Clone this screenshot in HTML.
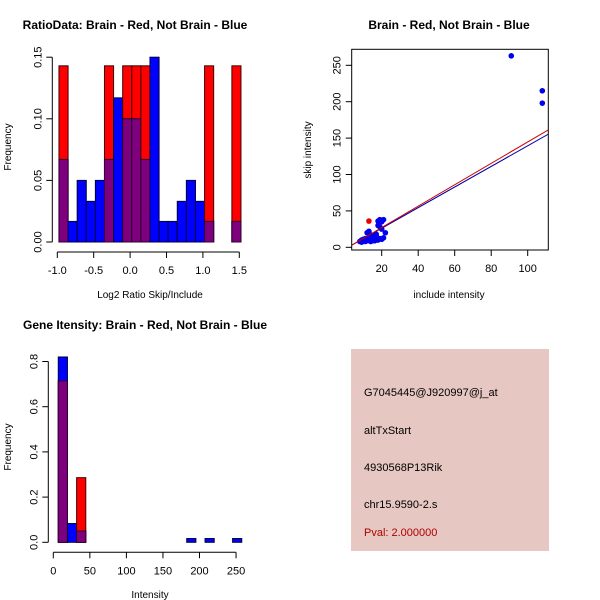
<!DOCTYPE html>
<html><head><meta charset="utf-8"><style>
body{margin:0;background:#fff;width:600px;height:600px;overflow:hidden}
svg{display:block;font-family:"Liberation Sans",sans-serif}
</style></head><body>
<svg width="600" height="600" viewBox="0 0 600 600">
<g id="p1"></g>
<g id="p2"></g>
<g id="p3"></g>
<g>
<rect x="351" y="349" width="198" height="202" fill="#e6c7c1"/>
<text x="364" y="396" font-size="11">G7045445@J920997@j_at</text>
<text x="364" y="434" font-size="11">altTxStart</text>
<text x="364" y="471" font-size="11">4930568P13Rik</text>
<text x="364" y="508" font-size="11">chr15.9590-2.s</text>
<text x="364" y="536" font-size="11" fill="#b00000">Pval: 2.000000</text>
</g>
</svg>
<script>
// Panel 1 data
const ratioStart=-0.977, ratioBin=0.125;
const ratioBlue=[0.067,0.0167,0.05,0.033,0.05,0.067,0.117,0.1,0.1,0.067,0.15,0.0167,0.0167,0.033,0.05,0.033,0.0167,0,0,0.0167];
const ratioRed=[0.143,0,0,0,0,0.143,0,0.143,0.143,0.143,0,0,0,0,0,0,0.143,0,0,0.143];
const ratioXTicks=[-1.0,-0.5,0.0,0.5,1.0,1.5];
const ratioXLabels=["-1.0","-0.5","0.0","0.5","1.0","1.5"];
const ratioYTicks=[0,0.05,0.10,0.15];
const ratioYLabels=["0.00","0.05","0.10","0.15"];
// Panel 2 data
const scX=[8,9,10,11,12,13,14,15,16,17,18,19,20,21,9,11,12,13,14,15,16,17,18,19,20,12,13,14,17,18,19,20,22,18,21,16,10,15,91,108,108];
const scY=[8,10,9,12,10,14,11,13,9,15,10,12,11,13,7,8,20,22,17,16,14,18,30,38,35,9,11,8,10,12,28,25,20,36,38,9,11,12,263,215,198];
const scRedX=[13];
const scRedY=[36];
const fitRed=[-2.3,1.47];
const fitBlue=[-2.1,1.415];
const scXTicks=[20,40,60,80,100];
const scYTicks=[0,50,100,150,200,250];
// Panel 3 data
const intStart=6.8, intBin=12.55;
const intBlue=[0.82,0.083,0.05,0,0,0,0,0,0,0,0,0,0,0,0.0167,0,0.0167,0,0,0.0167];
const intRed=[0.714,0,0.286,0,0,0,0,0,0,0,0,0,0,0,0,0,0,0,0,0];
const intXTicks=[0,50,100,150,200,250];
const intYTicks=[0,0.2,0.4,0.6,0.8];
const intYLabels=["0.0","0.2","0.4","0.6","0.8"];

const NS="http://www.w3.org/2000/svg";
function mk(parent,tag,attrs,name,txt){const e=document.createElementNS(NS,tag);for(const k in attrs)e.setAttribute(k,attrs[k]);


if(txt!==undefined)e.textContent=txt;parent.appendChild(e);return e;}

function hist(g,o){
 const sx=v=>o.x0+(v-o.xv0)*o.xs, sy=v=>o.y0-v*o.ys;
 const bw=o.bin*o.xs;
 for(let i=0;i<o.blue.length;i++){
  const x=sx(o.start+i*o.bin), b=o.blue[i], r=o.red[i], m=Math.min(b,r);
  if(r>0) mk(g,'rect',{x:x,y:sy(r),width:bw,height:r*o.ys,fill:'#ff0000',stroke:'#400000','stroke-width':1},'red-bar');
  if(b>0) mk(g,'rect',{x:x,y:sy(b),width:bw,height:b*o.ys,fill:'#0000ff',stroke:'#000040','stroke-width':1},'blue-bar');
  if(m>0) mk(g,'rect',{x:x,y:sy(m),width:bw,height:m*o.ys,fill:'#7f007f',stroke:'#300030','stroke-width':1},'overlap-bar');
 }
 const ay=o.y0+10;
 mk(g,'line',{x1:sx(o.xt[0]),x2:sx(o.xt[o.xt.length-1]),y1:ay,y2:ay,stroke:'#000'},'x-axis');
 o.xt.forEach((t,i)=>{mk(g,'line',{x1:sx(t),x2:sx(t),y1:ay,y2:ay+6,stroke:'#000'},'x-tick');
  mk(g,'text',{x:sx(t),y:ay+22,'font-size':11,'text-anchor':'middle'},'x-tick-label',o.xl[i]);});
 const ax=o.x0-5;
 mk(g,'line',{x1:ax,x2:ax,y1:sy(o.yt[0]),y2:sy(o.yt[o.yt.length-1]),stroke:'#000'},'y-axis');
 o.yt.forEach((t,i)=>{const y=sy(t);mk(g,'line',{x1:ax-6,x2:ax,y1:y,y2:y,stroke:'#000'},'y-tick');
  mk(g,'text',{x:ax-11,y:y,'font-size':11,'text-anchor':'middle',transform:`rotate(-90 ${ax-11} ${y})`},'y-tick-label',o.yl[i]);});
 mk(g,'text',{x:o.tx,y:o.ty,'font-size':12,'font-weight':'bold','text-anchor':'middle'},'chart-title',o.title);
 mk(g,'text',{x:o.xlx,y:o.xly,'font-size':10,'text-anchor':'middle'},'x-axis-title',o.xlab);
 mk(g,'text',{x:11,y:o.yly,'font-size':10,'text-anchor':'middle',transform:`rotate(-90 11 ${o.yly})`},'y-axis-title','Frequency');
}
hist(document.getElementById('p1'),{x0:57.3,xv0:-1,xs:72.8,y0:242,ys:1232,start:ratioStart,bin:ratioBin,blue:ratioBlue,red:ratioRed,
 xt:ratioXTicks,xl:ratioXLabels,yt:ratioYTicks,yl:ratioYLabels,title:'RatioData: Brain - Red, Not Brain - Blue',tx:135,ty:29,xlab:'Log2 Ratio Skip/Include',xlx:150,xly:298,yly:147});
hist(document.getElementById('p3'),{x0:53.3,xv0:0,xs:0.731,y0:542.3,ys:226,start:intStart,bin:intBin,blue:intBlue,red:intRed,
 xt:intXTicks,xl:intXTicks.map(String),yt:intYTicks,yl:intYLabels,title:'Gene Itensity: Brain - Red, Not Brain - Blue',tx:145,ty:329,xlab:'Intensity',xlx:150,xly:598,yly:447});

(function(){
 const g=document.getElementById('p2');
 const sx=v=>381.7+(v-20)*1.825, sy=v=>247.3-v*0.728;
 const L=351.7,R=548.3,T=49.3,B=250;
 mk(g,'rect',{x:L,y:T,width:R-L,height:B-T,fill:'none',stroke:'#000'},'plot-box');
 const xa=(L-381.7)/1.825+20, xb=(R-381.7)/1.825+20;
 const clip=mk(g,'clipPath',{id:'c2'},'clip');
 mk(clip,'rect',{x:L,y:T,width:R-L,height:B-T},'clip-rect');
 const lg=mk(g,'g',{'clip-path':'url(#c2)'},'plot-area');
 scX.forEach((x,i)=>mk(lg,'circle',{cx:sx(x),cy:sy(scY[i]),r:2.8,fill:'#0000ee'},'blue-point'));
 scRedX.forEach((x,i)=>mk(lg,'circle',{cx:sx(x),cy:sy(scRedY[i]),r:2.8,fill:'#ee0000'},'red-point'));
 mk(lg,'line',{x1:sx(xa),y1:sy(fitBlue[0]+fitBlue[1]*xa),x2:sx(xb),y2:sy(fitBlue[0]+fitBlue[1]*xb),stroke:'#0000aa'},'blue-fit-line');
 mk(lg,'line',{x1:sx(xa),y1:sy(fitRed[0]+fitRed[1]*xa),x2:sx(xb),y2:sy(fitRed[0]+fitRed[1]*xb),stroke:'#cc0000'},'red-fit-line');
 scXTicks.forEach(t=>{mk(g,'line',{x1:sx(t),x2:sx(t),y1:B,y2:B+6,stroke:'#000'},'x-tick');
  mk(g,'text',{x:sx(t),y:B+22,'font-size':11,'text-anchor':'middle'},'x-tick-label',String(t));});
 scYTicks.forEach(t=>{const y=sy(t);mk(g,'line',{x1:L-6,x2:L,y1:y,y2:y,stroke:'#000'},'y-tick');
  mk(g,'text',{x:L-11,y:y,'font-size':11,'text-anchor':'middle',transform:`rotate(-90 ${L-11} ${y})`},'y-tick-label',String(t));});
 mk(g,'text',{x:449,y:29,'font-size':12,'font-weight':'bold','text-anchor':'middle'},'chart-title','Brain - Red, Not Brain - Blue');
 mk(g,'text',{x:449,y:298,'font-size':10,'text-anchor':'middle'},'x-axis-title','include intensity');
 mk(g,'text',{x:311,y:150,'font-size':10,'text-anchor':'middle',transform:'rotate(-90 311 150)'},'y-axis-title','skip intensity');
})();
</script>
</body></html>
